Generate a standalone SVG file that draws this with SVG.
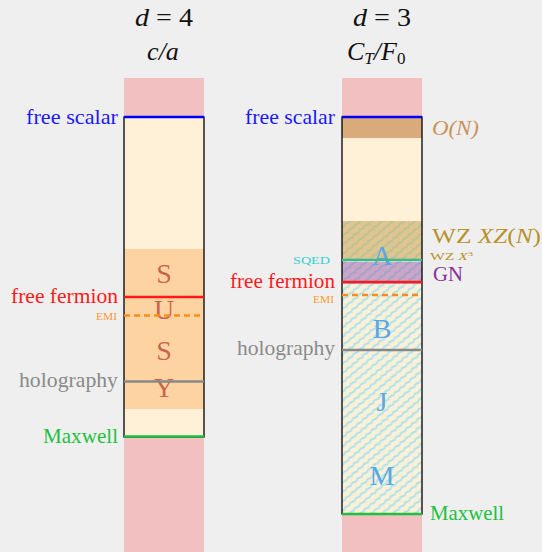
<svg xmlns="http://www.w3.org/2000/svg" width="542" height="552" viewBox="0 0 542 552">
<style>
text{font-family:"Liberation Serif","DejaVu Serif",serif}
.lbl{font-size:21px}
.sm{font-size:10px}
.title{font-size:26px;fill:#111}
.big{font-size:28px;text-anchor:middle}
.box{fill:none;stroke:#000;stroke-width:1.3}
.ln{stroke-width:2.5;fill:none}
</style>
<defs>
<pattern id="hatch" patternUnits="userSpaceOnUse" width="7" height="7" patternTransform="rotate(-40)">
<rect width="7" height="7" fill="#fdf0d8"/>
<path d="M0,2 Q1.75,0.8 3.5,2 T7,2" stroke="#a6e2ea" stroke-width="2" fill="none"/>
</pattern>
</defs>
<rect width="542" height="552" fill="#efefef"/>

<g id="titles">
<text class="title" x="164" y="26" text-anchor="middle" textLength="58" lengthAdjust="spacingAndGlyphs"><tspan font-style="italic">d</tspan> = 4</text>
<text class="title" x="163" y="60" text-anchor="middle" font-style="italic">c/a</text>
<text class="title" x="382" y="26" text-anchor="middle" textLength="58" lengthAdjust="spacingAndGlyphs"><tspan font-style="italic">d</tspan> = 3</text>
<text class="title" x="347" y="60" font-style="italic">C<tspan font-size="17" dy="4">T</tspan><tspan dy="-4">/F</tspan><tspan font-size="17" dy="4" font-style="normal">0</tspan></text>
</g>

<g id="column-d4">
<rect x="124" y="78" width="80" height="474" fill="#f2c0c0"/>
<rect x="124" y="117" width="80" height="320" fill="#fff0d8"/>
<rect x="124" y="249" width="80" height="160" fill="#fdd3a2"/>
<g fill="#c0503a" fill-opacity="0.85">
<text class="big" x="164" y="283">S</text>
<text class="big" x="164" y="319">U</text>
<text class="big" x="164" y="360">S</text>
<text class="big" x="164" y="397">Y</text>
</g>
<rect class="box" x="124" y="117" width="80" height="320"/>
</g>

<g id="column-d3">
<rect x="342" y="78" width="80" height="474" fill="#f2c0c0"/>
<rect x="342" y="117" width="80" height="397" fill="#fff0d8"/>
<rect x="342" y="117" width="80" height="21" fill="#d9aa7a"/>
<rect x="342" y="221" width="80" height="293" fill="url(#hatch)"/>
<rect x="342" y="221" width="80" height="38" fill="#c9a452" fill-opacity="0.55"/>
<rect x="342" y="262" width="80" height="22" fill="#9a5eb4" fill-opacity="0.5"/>
<g fill="#5aa6e6">
<text class="big" x="382" y="265">A</text>
<text class="big" x="382" y="338">B</text>
<text class="big" x="382" y="411">J</text>
<text class="big" x="382" y="485">M</text>
</g>
<rect class="box" x="342" y="117" width="80" height="397"/>
</g>

<g id="connectors">
<line class="ln" x1="124" y1="117" x2="204" y2="117" stroke="#0000ff"/>
<line class="ln" x1="124" y1="297" x2="204" y2="297" stroke="#ff1a1a"/>
<line class="ln" x1="124" y1="315.5" x2="204" y2="315.5" stroke="#ff8c1a" stroke-dasharray="6,4"/>
<line class="ln" x1="124" y1="381.5" x2="204" y2="381.5" stroke="#888"/>
<line class="ln" x1="124" y1="436.5" x2="204" y2="436.5" stroke="#1ec040"/>

<line class="ln" x1="342" y1="117" x2="422" y2="117" stroke="#0000ff"/>
<line class="ln" x1="342" y1="260" x2="422" y2="260" stroke="#3ab890"/>
<line class="ln" x1="342" y1="282" x2="422" y2="282" stroke="#ff1a1a"/>
<line class="ln" x1="342" y1="295" x2="422" y2="295" stroke="#ff8c1a" stroke-dasharray="6,4"/>
<line class="ln" x1="342" y1="350" x2="422" y2="350" stroke="#888"/>
<line class="ln" x1="342" y1="514" x2="422" y2="514" stroke="#1ec040"/>
</g>

<g id="labels-d4" text-anchor="end">
<text class="lbl" x="118" y="124" fill="#1a1aff" textLength="92" lengthAdjust="spacingAndGlyphs">free scalar</text>
<text class="lbl" x="118" y="303" fill="#ff1a1a" textLength="107" lengthAdjust="spacingAndGlyphs">free fermion</text>
<text class="sm" x="117" y="320" fill="#ff9a30" textLength="21" lengthAdjust="spacingAndGlyphs">EMI</text>
<text class="lbl" x="118" y="387" fill="#8a8a8a" textLength="99" lengthAdjust="spacingAndGlyphs">holography</text>
<text class="lbl" x="118" y="443" fill="#22c040" textLength="75" lengthAdjust="spacingAndGlyphs">Maxwell</text>
</g>

<g id="labels-d3-left" text-anchor="end">
<text class="lbl" x="335" y="124" fill="#1a1aff" textLength="90" lengthAdjust="spacingAndGlyphs">free scalar</text>
<text class="sm" x="330" y="264" fill="#38d0d0" textLength="37" lengthAdjust="spacingAndGlyphs">SQED</text>
<text class="lbl" x="335" y="288" fill="#ff1a1a" textLength="105" lengthAdjust="spacingAndGlyphs">free fermion</text>
<text class="sm" x="334" y="303" fill="#ff9a30" textLength="21" lengthAdjust="spacingAndGlyphs">EMI</text>
<text class="lbl" x="335" y="355" fill="#8a8a8a" textLength="98" lengthAdjust="spacingAndGlyphs">holography</text>
</g>

<g id="labels-d3-right">
<text class="lbl" x="432" y="135" fill="#c8925a" font-style="italic" textLength="47" lengthAdjust="spacingAndGlyphs">O(N)</text>
<text x="432" y="243" fill="#b8922a" style="font-size:20px" textLength="109" lengthAdjust="spacingAndGlyphs">WZ <tspan font-style="italic">XZ</tspan>(<tspan font-style="italic">N</tspan>)</text>
<text x="430" y="260" fill="#b8922a" style="font-size:11px" textLength="43" lengthAdjust="spacingAndGlyphs">WZ <tspan font-style="italic">X</tspan><tspan style="font-size:7px" dy="-4">3</tspan></text>
<text class="lbl" x="433" y="281" fill="#8b2f9a" textLength="30" lengthAdjust="spacingAndGlyphs">GN</text>
<text class="lbl" x="430" y="520" fill="#22c040" textLength="74" lengthAdjust="spacingAndGlyphs">Maxwell</text>
</g>
</svg>
